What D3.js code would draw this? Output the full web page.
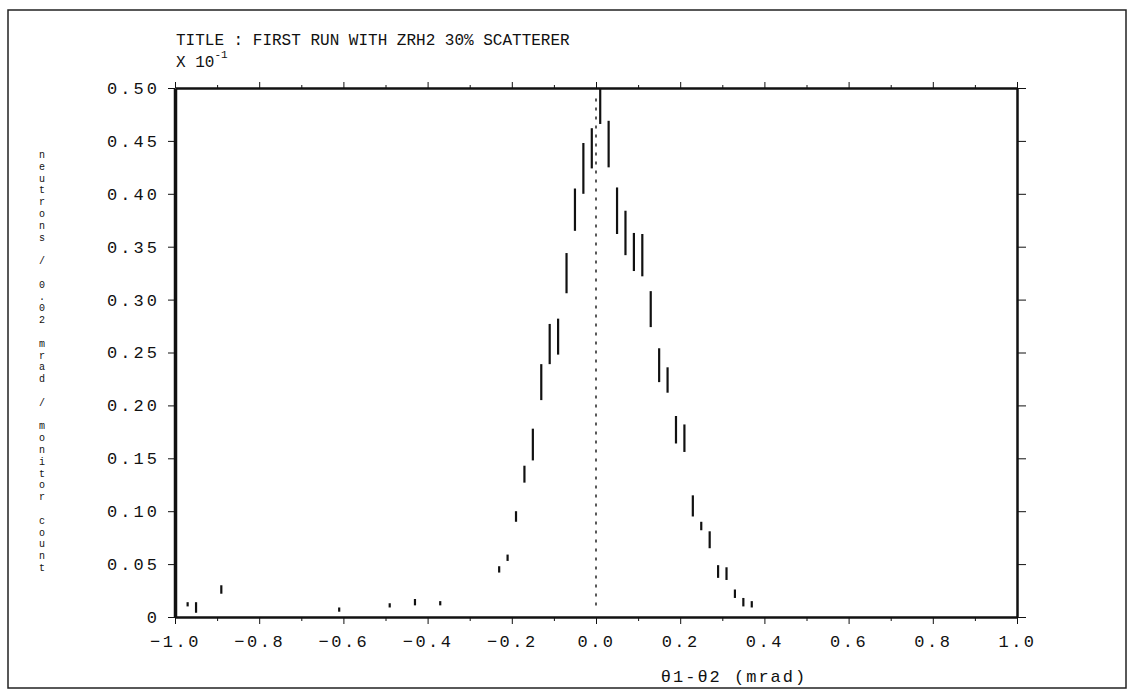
<!DOCTYPE html>
<html>
<head>
<meta charset="utf-8">
<script src="https://cdn.jsdelivr.net/npm/d3@7"></script>
<style>
  body { margin: 0; background: #fff; }
  text { font-family: "Liberation Mono", "DejaVu Sans Mono", monospace; fill: #111; }
  .axis path, .axis line { stroke: #111; }
</style>
</head>
<body>
<div id="chart"></div>
<script>
// bin centres (mrad), counts (x10^-1) and their errors
var binCenters = [-0.97, -0.95, -0.89, -0.61, -0.49, -0.43, -0.37,
  -0.23, -0.21, -0.19, -0.17, -0.15, -0.13, -0.11, -0.09, -0.07, -0.05, -0.03, -0.01,
  0.01, 0.03, 0.05, 0.07, 0.09, 0.11, 0.13, 0.15, 0.17, 0.19, 0.21, 0.23,
  0.25, 0.27, 0.29, 0.31, 0.33, 0.35, 0.37];
var counts = [0.012, 0.009, 0.026, 0.007, 0.011, 0.014, 0.013,
  0.045, 0.056, 0.095, 0.135, 0.163, 0.222, 0.258, 0.265, 0.325, 0.385, 0.424, 0.443,
  0.483, 0.447, 0.384, 0.363, 0.345, 0.342, 0.291, 0.238, 0.224, 0.177, 0.169, 0.105,
  0.086, 0.073, 0.043, 0.041, 0.022, 0.014, 0.012];
var errors = [0.002, 0.005, 0.004, 0.002, 0.002, 0.003, 0.002,
  0.003, 0.003, 0.005, 0.008, 0.015, 0.017, 0.019, 0.017, 0.019, 0.020, 0.024, 0.019,
  0.017, 0.022, 0.022, 0.021, 0.018, 0.020, 0.017, 0.016, 0.012, 0.013, 0.013, 0.010,
  0.004, 0.008, 0.006, 0.006, 0.004, 0.004, 0.003];

var xTicks = [-1.0, -0.8, -0.6, -0.4, -0.2, 0.0, 0.2, 0.4, 0.6, 0.8, 1.0];
var xMinorTicks = [-0.9, -0.7, -0.5, -0.3, -0.1, 0.1, 0.3, 0.5, 0.7, 0.9];
var yTicks = [0, 0.05, 0.10, 0.15, 0.20, 0.25, 0.30, 0.35, 0.40, 0.45, 0.50];

var titleText = 'TITLE : FIRST RUN WITH ZRH2 30% SCATTERER';
var xLabel = 'θ1-θ2 (mrad)';
var yLabel = 'neutrons / 0.02 mrad / monitor count';

var width = 1133, height = 697;
var x = d3.scaleLinear().domain([-1, 1]).range([175, 1017]);
var y = d3.scaleLinear().domain([0, 0.5]).range([617, 88]);

var svg = d3.select('#chart').append('svg')
  .attr('width', width)
  .attr('height', height);

// outer frame of the sheet
svg.append('rect')
  .attr('x', 8).attr('y', 10)
  .attr('width', 1118).attr('height', 678)
  .attr('fill', 'none')
  .attr('stroke', '#222')
  .attr('stroke-width', 1.5);

// axes
var gBottom = svg.append('g')
  .attr('class', 'axis')
  .attr('transform', 'translate(0,' + y(0) + ')')
  .call(d3.axisBottom(x).tickValues(xTicks).tickSize(7).tickSizeOuter(0)
    .tickFormat(function(d){ return d3.format('.1f')(d); }));
gBottom.select('.domain').attr('stroke-width', 2.5);
gBottom.selectAll('text')
  .attr('dy', '1.2em')
  .style('font-size', '17px')
  .style('letter-spacing', '2.5px');

svg.append('g')
  .attr('class', 'axis')
  .attr('transform', 'translate(0,' + y(0) + ')')
  .call(d3.axisBottom(x).tickValues(xMinorTicks).tickSize(4).tickFormat(''))
  .select('.domain').remove();

var gTop = svg.append('g')
  .attr('class', 'axis')
  .attr('transform', 'translate(0,' + y(0.5) + ')')
  .call(d3.axisTop(x).tickValues(xTicks).tickSize(6).tickSizeOuter(0).tickFormat(''));
gTop.select('.domain').attr('stroke-width', 2.5);

svg.append('g')
  .attr('class', 'axis')
  .attr('transform', 'translate(0,' + y(0.5) + ')')
  .call(d3.axisTop(x).tickValues(xMinorTicks).tickSize(3).tickFormat(''))
  .select('.domain').remove();

var gLeft = svg.append('g')
  .attr('class', 'axis')
  .attr('transform', 'translate(' + x(-1) + ',0)')
  .call(d3.axisLeft(y).tickValues(yTicks).tickSize(7).tickSizeOuter(0)
    .tickFormat(function(d){ return d === 0 ? '0' : d3.format('.2f')(d); }));
gLeft.select('.domain').attr('stroke-width', 3.5);
gLeft.selectAll('text')
  .attr('dx', '-0.3em')
  .style('font-size', '17px')
  .style('letter-spacing', '3px');

var gRight = svg.append('g')
  .attr('class', 'axis')
  .attr('transform', 'translate(' + x(1) + ',0)')
  .call(d3.axisRight(y).tickValues(yTicks).tickSize(9).tickSizeOuter(0).tickFormat(''));
gRight.select('.domain').attr('stroke-width', 2.5);

// dotted line at zero
svg.append('line')
  .attr('x1', x(0)).attr('x2', x(0))
  .attr('y1', y(0.49)).attr('y2', y(0.01))
  .attr('stroke', '#222')
  .attr('stroke-width', 1.5)
  .attr('stroke-dasharray', '3,6');

// error bars
svg.append('g').selectAll('line')
  .data(binCenters)
  .enter().append('line')
    .attr('x1', function(d){ return x(d); })
    .attr('x2', function(d){ return x(d); })
    .attr('y1', function(d, i){ return y(Math.min(0.5, counts[i] + errors[i])); })
    .attr('y2', function(d, i){ return y(Math.max(0, counts[i] - errors[i])); })
    .attr('stroke', '#111')
    .attr('stroke-width', 2.2);

// title
svg.append('text')
  .attr('x', 176)
  .attr('y', 45)
  .style('font-size', '16px')
  .text(titleText);

var scaleLabel = svg.append('text')
  .attr('x', 176)
  .attr('y', 67)
  .style('font-size', '16px')
  .text('X 10');
scaleLabel.append('tspan')
  .attr('dy', -9)
  .style('font-size', '11px')
  .text('-1');

// x axis label
svg.append('text')
  .attr('x', 734)
  .attr('y', 682)
  .style('text-anchor', 'middle')
  .style('font-size', '17px')
  .style('letter-spacing', '2px')
  .text(xLabel);

// y axis label, letters stacked one under the other
svg.append('g').selectAll('text')
  .data(yLabel.split(''))
  .enter().append('text')
    .attr('x', 42)
    .attr('y', function(d, i){ return 158 + i * 11.8; })
    .style('font-size', '10px')
    .style('text-anchor', 'middle')
    .text(function(d){ return d; });
</script>
</body>
</html>
